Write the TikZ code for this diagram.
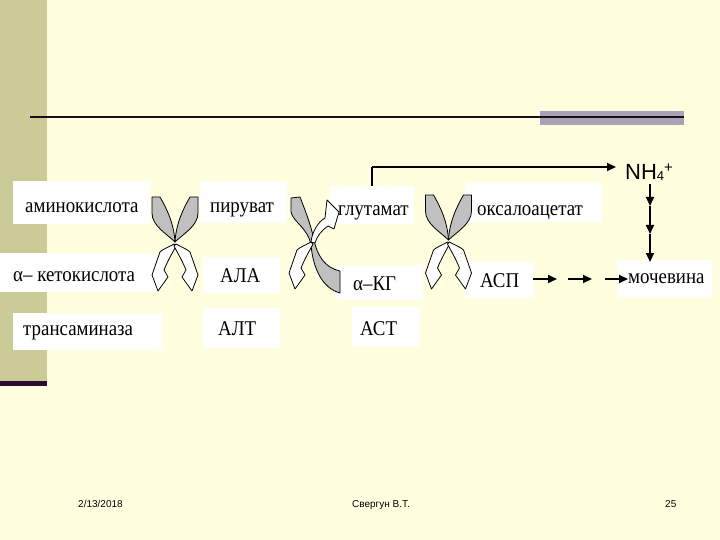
\documentclass[tikz,border=0pt]{standalone}
\usepackage{fontspec}
\setmainfont{Liberation Serif}[FakeStretch=0.9]
\newfontfamily\sansf{Liberation Sans}
\usetikzlibrary{arrows.meta}
\definecolor{bgc}{HTML}{FFFFE0}
\definecolor{barc}{HTML}{CBCB98}
\definecolor{barline}{HTML}{2E0A2E}
\definecolor{rulec}{HTML}{1C0C1C}
\definecolor{rectc}{HTML}{A8A4B6}
\definecolor{bandgray}{HTML}{C0C0C0}
\tikzset{
  wbox/.style={fill=white, draw=none, inner sep=0pt, outer sep=0pt},
  lbl/.style={anchor=base west, inner sep=0pt, font=\fontsize{21}{24}\selectfont},
  foot/.style={anchor=base west, inner sep=0pt, font=\sansf\fontsize{10}{12}\selectfont},
  band/.style={draw=black, line width=0.8pt, line join=round},
  gband/.style={band, fill=bandgray},
  whead/.style={band, fill=white},
  arr/.style={line width=1.8pt, -{Triangle[length=9pt,width=8pt]}}
}
\begin{document}
\begin{tikzpicture}[x=1pt,y=-1pt]
\useasboundingbox (0,0) rectangle (720,540);
% background
\fill[bgc] (0,0) rectangle (720,540);
\fill[barc] (0,0) rectangle (47,381);
\fill[barline] (0,381) rectangle (47,386);
% title rule
\fill[rectc] (540,111) rectangle (684,125);
\draw[rulec, line width=2pt] (30,117) -- (684,117);

% white boxes
\node[wbox, minimum width=137pt, minimum height=43pt] (amino) at (81.5,202.5) {};
\node[wbox, minimum width=87pt, minimum height=42pt] (pir) at (243.5,202) {};
\node[wbox, minimum width=84pt, minimum height=38pt] (glu) at (372,205) {};
\node[wbox, minimum width=137pt, minimum height=39pt] (oxa) at (533.5,202.5) {};
\node[wbox, minimum width=157pt, minimum height=39pt] (keto) at (78.5,272.5) {};
\node[wbox, minimum width=77pt, minimum height=36pt] (ala) at (241.5,275) {};
\node[wbox, minimum width=86pt, minimum height=35pt] (akg) at (380,282.5) {};
\node[wbox, minimum width=68pt, minimum height=36pt] (asp) at (499,280) {};
\node[wbox, minimum width=95pt, minimum height=37pt] (moch) at (664.5,278.5) {};
\node[wbox, minimum width=150pt, minimum height=37pt] (trans) at (88,331.5) {};
\node[wbox, minimum width=77pt, minimum height=40pt] (alt) at (241.5,328) {};
\node[wbox, minimum width=68pt, minimum height=40pt] (ast) at (386,327) {};

% labels
\node[lbl] at (25,212) {аминокислота};
\node[lbl] at (210,212) {пируват};
\node[lbl] at (338,215) {глутамат};
\node[lbl] at (477,215) {оксалоацетат};
\node[lbl] at (13,281) {α– кетокислота};
\node[lbl] at (220,282) {АЛА};
\node[lbl] at (353,290) {α–КГ};
\node[lbl] at (480,287) {АСП};
\node[lbl] at (628,283) {мочевина};
\node[lbl] at (23,335) {трансаминаза};
\node[lbl] at (218,335) {АЛТ};
\node[lbl] at (360,335) {АСТ};
\node[anchor=base west, inner sep=0pt, font=\sansf\fontsize{22}{26}\selectfont] (nh4) at (625,180)
  {NH\raisebox{-1pt}{\fontsize{13}{13}\selectfont 4}\raisebox{7pt}{\fontsize{15}{15}\selectfont +}};

% crossing 1 (centre 175,244)
\begin{scope}[shift={(175,244)}]
  \draw[gband] (-23,-47) -- (-15,-47) .. controls (-8,-35) and (-1,-20) .. (0,-2) .. controls (-8,-10) and (-23,-18) .. (-23,-31) -- cycle;
  \draw[gband] (23,-47) -- (15,-47) .. controls (8,-35) and (1,-20) .. (0,-2) .. controls (8,-10) and (23,-18) .. (23,-31) -- cycle;
  \draw[whead] (-1,0) .. controls (-6,3) and (-12,5) .. (-15,8) -- (-23,31) -- (-17,47) -- (-7,33) -- (-11,26) .. controls (-7,16) and (-2,8) .. (1,2) -- cycle;
  \draw[whead] (1,0) .. controls (6,3) and (12,5) .. (15,8) -- (23,31) -- (17,47) -- (7,33) -- (11,26) .. controls (7,16) and (2,8) .. (-1,2) -- cycle;
\end{scope}
% crossing 2 (centre 312,242)
\begin{scope}[shift={(312,242)}]
  \draw[gband] (-21,-44) -- (-12,-45) .. controls (-7,-32) and (-1,-17) .. (2,-2) .. controls (5,13) and (13,26) .. (28,29) -- (28,51) .. controls (10,46) and (1,26) .. (-1,3) .. controls (-4,-14) and (-19,-20) .. (-21,-30) -- cycle;
  \draw[whead] (-1,0) .. controls (-6,3) and (-12,5) .. (-15,8) -- (-23,31) -- (-17,47) -- (-7,33) -- (-11,26) .. controls (-7,16) and (-2,8) .. (1,2) -- cycle;
  \draw[whead] (-1,0) .. controls (0,-10) and (6,-20) .. (13,-24) -- (15,-42) -- (27,-30) -- (22,-13) -- (16,-16) .. controls (10,-12) and (5,-6) .. (3,1) -- cycle;
\end{scope}
% crossing 3 (centre 448.5,242)
\begin{scope}[shift={(448.5,242)}]
  \draw[gband] (-23,-47) -- (-15,-47) .. controls (-8,-35) and (-1,-20) .. (0,-2) .. controls (-8,-10) and (-23,-18) .. (-23,-31) -- cycle;
  \draw[gband] (23,-47) -- (15,-47) .. controls (8,-35) and (1,-20) .. (0,-2) .. controls (8,-10) and (23,-18) .. (23,-31) -- cycle;
  \draw[whead] (-1,0) .. controls (-6,3) and (-12,5) .. (-15,8) -- (-23,31) -- (-17,47) -- (-7,33) -- (-11,26) .. controls (-7,16) and (-2,8) .. (1,2) -- cycle;
  \draw[whead] (1,0) .. controls (6,3) and (12,5) .. (15,8) -- (23,31) -- (17,47) -- (7,33) -- (11,26) .. controls (7,16) and (2,8) .. (-1,2) -- cycle;
\end{scope}

% glutamate -> NH4+
\coordinate (gc) at (372,167);
\coordinate (nin) at (616,167);
\draw[line width=1.8pt] (glu.north) -- (gc);
\draw[arr] (gc) -- (nin);
% NH4+ -> urea
\coordinate (v0) at (650,184);
\coordinate (v1) at (650,206);
\coordinate (v2) at (650,234);
\coordinate (v3) at (650,262);
\draw[arr] (v0) -- (v1);
\draw[arr] (v1) -- (v2);
\draw[arr] (v2) -- (v3);
% ASP -> urea
\coordinate (h0) at (533,279);
\coordinate (h1) at (557,279);
\coordinate (h2) at (568,279);
\coordinate (h3) at (592,279);
\coordinate (h4) at (605,279);
\coordinate (h5) at (628,279);
\draw[arr] (h0) -- (h1);
\draw[arr] (h2) -- (h3);
\draw[arr] (h4) -- (h5);

% footer
\node[foot] at (78,507) {2/13/2018};
\node[foot] at (352,507) {Свергун В.Т.};
\node[foot] at (665,507) {25};
\end{tikzpicture}
\end{document}
